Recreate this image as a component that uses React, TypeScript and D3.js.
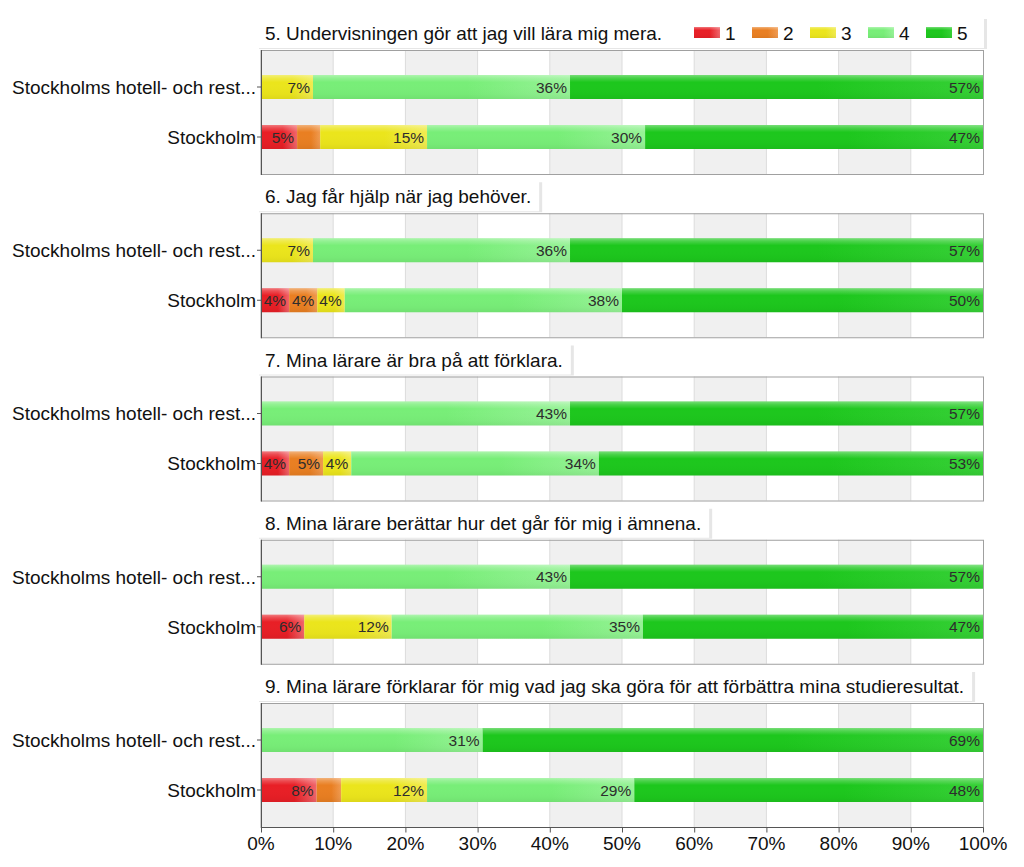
import React, { useEffect, useRef } from "react";
import * as d3 from "d3";

const questions = [
  "5. Undervisningen gör att jag vill lära mig mera.",
  "6. Jag får hjälp när jag behöver.",
  "7. Mina lärare är bra på att förklara.",
  "8. Mina lärare berättar hur det går för mig i ämnena.",
  "9. Mina lärare förklarar för mig vad jag ska göra för att förbättra mina studieresultat.",
];
const groups = ["Stockholms hotell- och rest...", "Stockholm"];
const levels = ["1", "2", "3", "4", "5"];
const ticks = [0, 10, 20, 30, 40, 50, 60, 70, 80, 90, 100];

// values per question: [hotel row, Stockholm row], each with shares for levels 1..5
const q5 = [[0, 0, 7.2, 35.6, 57.2], [5, 3.2, 14.8, 30.2, 46.8]];
const q6 = [[0, 0, 7.2, 35.6, 57.2], [3.9, 3.9, 3.8, 38.4, 50]];
const q7 = [[0, 0, 0, 42.8, 57.2], [3.9, 4.7, 3.9, 34.3, 53.2]];
const q8 = [[0, 0, 0, 42.8, 57.2], [6, 0, 12.1, 34.8, 47.1]];
const q9 = [[0, 0, 0, 30.7, 69.3], [7.7, 3.4, 11.9, 28.7, 48.3]];
const data = [q5, q6, q7, q8, q9];

const baseColors = ["#e81f26", "#e97f22", "#ebe51c", "#78ee78", "#1dc71d"];
const lightColors = ["#f0666c", "#f09a50", "#f0eb50", "#96f296", "#36d036"];

const FONT = "Arial, 'Liberation Sans', sans-serif";
const FS = 19;

export default function App() {
  const ref = useRef<SVGSVGElement | null>(null);
  useEffect(() => {
    const svg = d3.select(ref.current);
    svg.selectAll("*").remove();
    const W = 1024, H = 867;
    const x = d3.scaleLinear().domain([0, 100]).range([261, 983]);
    const panel = d3.scaleBand<string>().domain(questions).range([20, 20 + 5 * 163.25]).paddingInner(0);
    const plotH = 124;

    const defs = svg.append("defs");
    levels.forEach((l, i) => {
      const g = defs.append("linearGradient").attr("id", "h" + i).attr("x1", 0).attr("x2", 1).attr("y1", 0).attr("y2", 0);
      g.append("stop").attr("offset", "0%").attr("stop-color", baseColors[i]);
      g.append("stop").attr("offset", "60%").attr("stop-color", baseColors[i]);
      g.append("stop").attr("offset", "100%").attr("stop-color", lightColors[i]);
    });
    const gl = defs.append("linearGradient").attr("id", "gloss").attr("x1", 0).attr("x2", 0).attr("y1", 0).attr("y2", 1);
    gl.append("stop").attr("offset", "0%").attr("stop-color", "#fff").attr("stop-opacity", 0.4);
    gl.append("stop").attr("offset", "12%").attr("stop-color", "#fff").attr("stop-opacity", 0.2);
    gl.append("stop").attr("offset", "30%").attr("stop-color", "#fff").attr("stop-opacity", 0);
    gl.append("stop").attr("offset", "80%").attr("stop-color", "#000").attr("stop-opacity", 0.02);
    gl.append("stop").attr("offset", "100%").attr("stop-color", "#000").attr("stop-opacity", 0.06);

    const root = svg.append("g");

    questions.forEach((q, qi) => {
      const top = (panel(q) as number) + 30;
      const g = root.append("g");
      const y = d3.scalePoint<string>().domain(groups).range([top + 37, top + 87]);

      for (let i = 0; i < 10; i += 2) {
        g.append("rect").attr("x", x(ticks[i])).attr("y", top).attr("width", x(ticks[i + 1]) - x(ticks[i]))
          .attr("height", plotH).attr("fill", "#f0f0f0");
      }
      ticks.slice(1, -1).forEach((t) => {
        g.append("line").attr("x1", x(t)).attr("x2", x(t)).attr("y1", top).attr("y2", top + plotH)
          .attr("stroke", "#dcdcdc").attr("stroke-width", 1);
      });
      g.append("rect").attr("x", x(0)).attr("y", top + 0.5).attr("width", x(100) - x(0) + 0.5).attr("height", plotH)
        .attr("fill", "none").attr("stroke", "#a0a0a0");

      const titleG = g.append("g");
      const shadow = titleG.append("rect").attr("fill", "#e6e6e6");
      const box = titleG.append("rect").attr("fill", "#fff");
      const tt = titleG.append("text").attr("x", 265).attr("y", top - 10).attr("font-size", FS)
        .attr("font-family", FONT).attr("fill", "#111").text(q);
      let endX = 265 + (tt.node() as SVGTextElement).getComputedTextLength() + 8;
      if (qi === 0) endX = 984;
      box.attr("x", 258).attr("y", top - 32).attr("width", endX - 258).attr("height", 30);
      shadow.attr("x", 259).attr("y", top - 31).attr("width", endX - 258 + 2).attr("height", 30);

      if (qi === 0) {
        levels.forEach((l, i) => {
          const lx = 694 + i * 58;
          g.append("rect").attr("x", lx).attr("y", top - 23).attr("width", 26).attr("height", 11).attr("fill", `url(#h${i})`);
          g.append("rect").attr("x", lx).attr("y", top - 23).attr("width", 26).attr("height", 11).attr("fill", "url(#gloss)");
          g.append("text").attr("x", lx + 31).attr("y", top - 10).attr("font-size", FS).attr("font-family", FONT)
            .attr("fill", "#111").text(l);
        });
      }

      data[qi].forEach((row, ri) => {
        const cy = y(groups[ri]) as number;
        let cum = 0;
        row.forEach((v, li) => {
          const x0 = x(cum), x1 = x(cum + v);
          cum += v;
          if (v <= 0) return;
          g.append("rect").attr("x", x0).attr("y", cy - 12).attr("width", x1 - x0).attr("height", 24).attr("fill", `url(#h${li})`);
          g.append("rect").attr("x", x0).attr("y", cy - 12).attr("width", x1 - x0).attr("height", 24).attr("fill", "url(#gloss)");
          if (v >= 3.6) {
            g.append("text").attr("x", x1 - 3).attr("y", cy).attr("dy", "0.36em").attr("text-anchor", "end")
              .attr("font-size", 15.5).attr("font-family", FONT).attr("fill", "#2d2d2d").text(Math.round(v) + "%");
          }
        });
        g.append("line").attr("x1", x(0) - 4).attr("x2", x(0)).attr("y1", cy).attr("y2", cy).attr("stroke", "#555");
        g.append("text").attr("x", 256).attr("y", cy).attr("dy", "0.36em").attr("text-anchor", "end")
          .attr("font-size", FS).attr("font-family", FONT).attr("fill", "#111").text(groups[ri]);
      });

      g.append("line").attr("x1", x(0) + 0.5).attr("x2", x(0) + 0.5).attr("y1", top).attr("y2", top + plotH + 1)
        .attr("stroke", "#555").attr("stroke-width", 1);

      if (qi === questions.length - 1) {
        const by = top + plotH + 0.5;
        g.append("line").attr("x1", x(0)).attr("x2", x(100) + 0.5).attr("y1", by).attr("y2", by).attr("stroke", "#555");
        ticks.forEach((t) => {
          g.append("line").attr("x1", x(t) + 0.5).attr("x2", x(t) + 0.5).attr("y1", by).attr("y2", by + 5).attr("stroke", "#555");
          g.append("text").attr("x", x(t)).attr("y", by + 16).attr("dy", "0.36em").attr("text-anchor", "middle")
            .attr("font-size", FS).attr("font-family", FONT).attr("fill", "#111").text(t + "%");
        });
      }
    });
    svg.attr("width", W).attr("height", H);
  }, []);
  return (
    <svg ref={ref} width={1024} height={867} style={{ position: "absolute", left: 0, top: 0, background: "#fff" }} />
  );
}
